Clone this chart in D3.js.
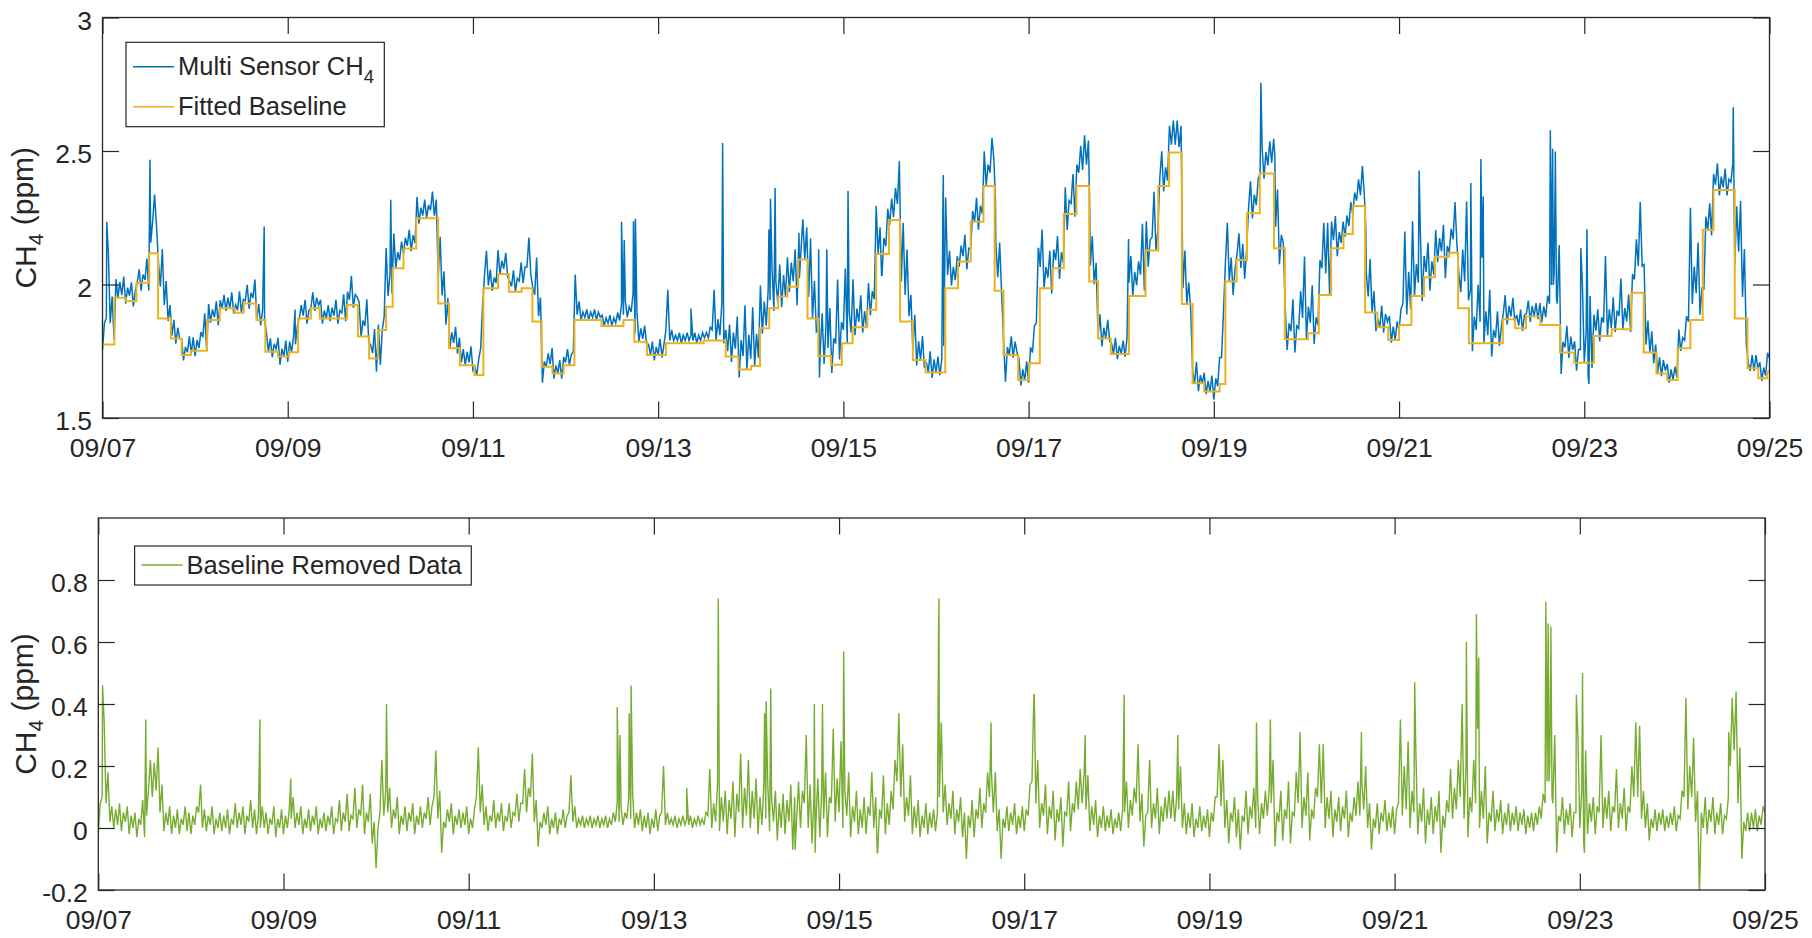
<!DOCTYPE html>
<html>
<head>
<meta charset="utf-8">
<script src="https://cdn.jsdelivr.net/npm/d3@7"></script>
<style>
  body { margin: 0; background: #fff; }
  text { font-family: "Liberation Sans", Arial, Helvetica, sans-serif; fill: #262626; }
</style>
</head>
<body>
<script>
// CH4 sensor record, 09/07 - 09/25
// hours are counted from 09/07 00:00

const xTickLabels = ['09/07', '09/09', '09/11', '09/13', '09/15', '09/17', '09/19', '09/21', '09/23', '09/25'];
const topTicks = [1.5, 2, 2.5, 3];
const bottomTicks = [-0.2, 0, 0.2, 0.4, 0.6, 0.8];

// fitted baseline: step start (hours) and level (ppm)
const baseHours = [0, 3.1, 6.0, 8.8, 12.1, 14.4, 17.7, 20.5, 22.9, 27.1, 30.4, 34.2, 36.6, 39.9, 42.2, 45.5,
  48.3, 50.7, 54.0, 56.3, 63.4, 66.2, 69.1, 71.4, 73.5, 75.2, 78.0, 81.3, 87.0, 89.8, 92.6, 96.4,
  98.7, 102.5, 105.3, 108.6, 111.4, 113.8, 116.6, 119.5, 122.3, 129.3, 135.0, 137.8, 141.1, 146.0,
  155.8, 161.5, 164.8, 168.1, 170.4, 172.8, 175.1, 177.5, 180.3, 182.7, 185.5, 188.8, 191.6, 194.4,
  198.2, 200.5, 203.8, 206.7, 210.0, 213.3, 218.4, 221.7, 225.0, 228.3, 231.2, 233.5, 237.3, 240.1,
  242.9, 246.2, 249.1, 252.4, 255.7, 258.0, 261.3, 266.0, 270.3, 273.6, 276.4, 279.7, 282.5, 285.5,
  289.5, 291.0, 293.9, 296.6, 299.9, 303.6, 306.4, 312.4, 315.2, 318.4, 321.6, 324.0, 327.2, 330.4,
  333.2, 336.0, 339.2, 342.5, 345.3, 349.0, 351.3, 354.1, 362.9, 366.1, 368.9, 372.6, 377.7, 381.4,
  386.5, 391.1, 396.2, 399.4, 402.7, 405.5, 408.2, 411.5, 414.7, 417.5, 423.0, 426.3, 429.1, 431.4];
const baseLevels = [1.775, 1.950, 1.938, 2.007, 2.117, 1.873, 1.798, 1.736, 1.752, 1.867, 1.911, 1.894, 1.929, 1.867, 1.748, 1.730,
  1.746, 1.873, 1.911, 1.873, 1.923, 1.805, 1.723, 1.830, 1.917, 2.061, 2.135, 2.248, 1.929, 1.761, 1.698, 1.661,
  1.986, 2.039, 1.973, 1.986, 1.861, 1.692, 1.667, 1.698, 1.867, 1.845, 1.867, 1.786, 1.736, 1.780,
  1.790, 1.730, 1.682, 1.695, 1.836, 1.911, 1.955, 1.992, 2.094, 1.873, 1.732, 1.699, 1.780, 1.840,
  1.905, 2.114, 2.242, 1.861, 1.717, 1.670, 1.986, 2.086, 2.235, 2.369, 1.977, 1.736, 1.642, 1.705,
  1.986, 2.061, 2.264, 2.369, 2.011, 1.798, 1.740, 1.957, 2.127, 2.369, 2.494, 1.927, 1.630, 1.599,
  1.627, 2.011, 2.092, 2.267, 2.416, 2.136, 1.795, 1.817, 1.961, 2.136, 2.189, 2.294, 1.895, 1.840,
  1.792, 1.848, 1.957, 2.027, 2.104, 2.119, 1.911, 1.780, 1.870, 1.836, 1.880, 1.848, 1.745, 1.707,
  1.807, 1.832, 1.969, 1.745, 1.667, 1.642, 1.761, 1.867, 2.204, 2.354, 1.873, 1.686, 1.649, 1.674];

// baseline removed data: low and high of each hour (h = 0 .. 432), one row per day
const resLow = [
  -0.02, 0.10, 0.08, 0.02, 0.00, 0.01, -0.01, 0.02, -0.02, 0.00, -0.03, 0.01, -0.03, 0.12, 0.10, 0.12, 0.05, -0.01, 0.01, -0.02, 0.00, -0.02, 0.01, -0.01,
  -0.02, 0.01, 0.05, 0.00, -0.01, 0.01, -0.02, 0.00, -0.01, 0.00, -0.02, 0.01, 0.00, 0.01, -0.02, 0.02, 0.00, -0.02, 0.00, 0.00, -0.02, 0.01, -0.03, 0.00,
  -0.02, 0.00, 0.03, 0.00, 0.01, -0.02, 0.00, -0.01, 0.01, -0.02, 0.00, -0.01, 0.01, -0.02, 0.02, -0.01, 0.02, -0.01, 0.03, 0.00, 0.04, -0.02, 0.02, -0.05,
  -0.13, 0.05, 0.04, 0.05, 0.00, 0.03, -0.02, 0.01, -0.01, 0.02, -0.02, 0.01, 0.00, 0.03, 0.01, 0.10, 0.03, -0.08, 0.00, 0.02, -0.02, 0.01, 0.00, 0.01,
  -0.02, 0.00, 0.10, 0.05, 0.01, -0.01, 0.02, 0.00, 0.02, -0.01, 0.02, 0.00, 0.04, 0.02, 0.08, 0.05, 0.10, 0.02, -0.06, 0.00, 0.01, -0.02, 0.00, -0.02,
  0.01, 0.00, 0.05, 0.02, 0.00, 0.01, 0.00, 0.01, 0.00, 0.01, 0.00, 0.01, 0.00, 0.01, 0.02, 0.02, 0.01, 0.03, 0.03, 0.00, 0.01, -0.01, 0.00, -0.02,
  0.00, -0.01, 0.05, 0.01, 0.01, 0.01, 0.00, 0.01, 0.01, 0.01, 0.00, 0.01, 0.01, 0.01, 0.04, 0.00, 0.02, -0.01, 0.02, -0.02, 0.03, -0.03, 0.05, 0.00,
  0.04, 0.00, 0.03, -0.02, 0.01, 0.03, -0.01, 0.02, -0.04, 0.00, -0.02, 0.02, -0.07, 0.03, 0.00, 0.08, 0.00, -0.05, 0.02, -0.03, 0.03, -0.03, 0.08, 0.02,
  0.05, 0.00, 0.04, -0.03, 0.02, -0.02, 0.00, -0.02, 0.04, 0.00, -0.08, 0.03, -0.02, 0.01, 0.06, 0.15, 0.10, 0.02, 0.04, -0.02, 0.00, -0.03, 0.00, -0.02,
  0.00, -0.01, 0.10, 0.05, 0.01, 0.03, -0.02, 0.02, -0.03, -0.10, 0.00, -0.03, 0.03, 0.00, 0.05, 0.10, 0.05, -0.01, -0.10, 0.00, -0.01, 0.01, -0.02, 0.00,
  -0.01, 0.04, 0.15, 0.08, 0.00, 0.04, -0.02, 0.03, -0.04, 0.02, -0.06, 0.04, -0.01, 0.05, 0.06, 0.08, 0.06, -0.01, 0.01, -0.03, 0.00, -0.01, 0.00, -0.02,
  0.00, -0.01, 0.05, 0.00, 0.04, 0.08, 0.02, -0.06, 0.05, 0.00, 0.03, -0.02, 0.02, 0.03, 0.03, 0.02, 0.06, 0.00, -0.02, 0.00, -0.03, 0.00, -0.01, 0.00,
  -0.03, 0.02, 0.10, 0.07, 0.00, -0.05, 0.02, -0.03, -0.07, 0.02, -0.02, 0.03, 0.00, -0.02, 0.03, 0.04, 0.08, -0.06, 0.02, -0.04, 0.03, -0.05, 0.04, 0.08,
  0.00, 0.04, -0.04, 0.03, 0.10, 0.08, 0.00, 0.03, -0.03, 0.02, -0.01, 0.03, -0.03, 0.02, 0.04, 0.04, 0.06, 0.00, -0.07, 0.00, -0.02, 0.02, -0.01, 0.00,
  -0.02, 0.08, 0.04, 0.06, 0.00, 0.05, -0.02, 0.02, -0.05, 0.01, -0.02, 0.02, -0.08, 0.00, 0.05, 0.03, 0.06, 0.10, 0.03, -0.03, 0.05, 0.08, 0.00, 0.03,
  -0.05, 0.02, -0.01, 0.02, -0.02, 0.01, -0.01, 0.01, -0.01, 0.01, -0.02, 0.00, -0.01, 0.01, 0.03, 0.08, 0.15, 0.08, -0.08, 0.02, -0.02, 0.01, -0.03, 0.05,
  0.00, -0.05, -0.02, 0.02, -0.02, 0.05, 0.00, 0.03, -0.01, 0.05, 0.00, 0.03, -0.01, 0.05, 0.10, 0.10, 0.03, 0.00, -0.04, 0.00, -0.01, 0.01, -0.01, 0.00,
  0.01, -0.01, 0.03, 0.10, 0.06, 0.10, 0.02, -0.22, 0.00, -0.02, 0.02, -0.02, 0.01, -0.02, 0.03, 0.20, 0.25, 0.08, -0.10, -0.01, -0.01, 0.00, -0.01, 0.01, 0.05
];
const resHigh = [
  0.08, 0.35, 0.18, 0.07, 0.06, 0.08, 0.05, 0.07, 0.04, 0.05, 0.03, 0.09, 0.04, 0.22, 0.21, 0.26, 0.14, 0.05, 0.07, 0.04, 0.06, 0.03, 0.07, 0.05,
  0.04, 0.07, 0.14, 0.06, 0.04, 0.07, 0.03, 0.05, 0.04, 0.06, 0.03, 0.08, 0.05, 0.07, 0.04, 0.09, 0.06, 0.04, 0.07, 0.05, 0.03, 0.07, 0.03, 0.06,
  0.04, 0.06, 0.10, 0.05, 0.07, 0.03, 0.06, 0.04, 0.07, 0.03, 0.05, 0.04, 0.07, 0.03, 0.09, 0.05, 0.11, 0.04, 0.13, 0.06, 0.14, 0.05, 0.11, 0.02,
  0.00, 0.22, 0.12, 0.13, 0.06, 0.10, 0.04, 0.07, 0.05, 0.08, 0.04, 0.07, 0.05, 0.10, 0.07, 0.25, 0.12, 0.02, 0.06, 0.08, 0.04, 0.06, 0.05, 0.07,
  0.03, 0.06, 0.26, 0.14, 0.07, 0.04, 0.09, 0.05, 0.08, 0.04, 0.08, 0.05, 0.11, 0.08, 0.19, 0.13, 0.24, 0.09, 0.02, 0.05, 0.07, 0.03, 0.05, 0.03,
  0.06, 0.04, 0.17, 0.07, 0.03, 0.04, 0.03, 0.04, 0.03, 0.04, 0.03, 0.04, 0.03, 0.05, 0.08, 0.07, 0.05, 0.10, 0.11, 0.05, 0.06, 0.04, 0.05, 0.03,
  0.06, 0.04, 0.20, 0.05, 0.03, 0.04, 0.03, 0.04, 0.03, 0.04, 0.03, 0.04, 0.03, 0.05, 0.19, 0.08, 0.14, 0.10, 0.12, 0.09, 0.15, 0.11, 0.24, 0.13,
  0.22, 0.12, 0.16, 0.10, 0.14, 0.15, 0.10, 0.12, 0.08, 0.11, 0.09, 0.14, 0.10, 0.15, 0.12, 0.30, 0.14, 0.10, 0.16, 0.12, 0.18, 0.10, 0.32, 0.16,
  0.28, 0.12, 0.18, 0.07, 0.12, 0.06, 0.10, 0.07, 0.18, 0.10, 0.06, 0.17, 0.08, 0.12, 0.22, 0.37, 0.27, 0.10, 0.17, 0.07, 0.09, 0.04, 0.08, 0.05,
  0.06, 0.05, 0.34, 0.14, 0.08, 0.12, 0.06, 0.10, 0.05, 0.04, 0.09, 0.06, 0.13, 0.08, 0.18, 0.18, 0.18, 0.06, 0.03, 0.07, 0.05, 0.08, 0.04, 0.07,
  0.06, 0.14, 0.43, 0.22, 0.08, 0.14, 0.07, 0.12, 0.06, 0.10, 0.05, 0.15, 0.08, 0.15, 0.19, 0.17, 0.17, 0.07, 0.09, 0.04, 0.07, 0.04, 0.06, 0.03,
  0.05, 0.06, 0.15, 0.09, 0.13, 0.27, 0.11, 0.04, 0.22, 0.08, 0.13, 0.07, 0.10, 0.12, 0.12, 0.10, 0.20, 0.08, 0.05, 0.08, 0.03, 0.07, 0.04, 0.06,
  0.05, 0.10, 0.27, 0.22, 0.09, 0.05, 0.10, 0.06, 0.04, 0.12, 0.07, 0.13, 0.10, 0.08, 0.12, 0.13, 0.22, 0.05, 0.12, 0.06, 0.15, 0.05, 0.18, 0.31,
  0.10, 0.18, 0.06, 0.13, 0.27, 0.27, 0.10, 0.12, 0.06, 0.10, 0.07, 0.12, 0.05, 0.10, 0.15, 0.15, 0.20, 0.08, 0.03, 0.08, 0.05, 0.09, 0.05, 0.07,
  0.06, 0.35, 0.20, 0.28, 0.12, 0.25, 0.08, 0.13, 0.06, 0.10, 0.07, 0.12, 0.04, 0.09, 0.19, 0.13, 0.22, 0.40, 0.20, 0.10, 0.22, 0.32, 0.12, 0.20,
  0.05, 0.12, 0.06, 0.09, 0.05, 0.08, 0.05, 0.07, 0.05, 0.06, 0.04, 0.05, 0.05, 0.07, 0.11, 0.22, 0.60, 0.30, 0.04, 0.10, 0.06, 0.08, 0.05, 0.30,
  0.12, 0.25, 0.08, 0.10, 0.07, 0.30, 0.10, 0.12, 0.07, 0.19, 0.08, 0.13, 0.07, 0.20, 0.34, 0.33, 0.12, 0.08, 0.03, 0.06, 0.05, 0.06, 0.04, 0.05,
  0.07, 0.04, 0.12, 0.42, 0.20, 0.29, 0.12, 0.05, 0.10, 0.06, 0.10, 0.05, 0.08, 0.04, 0.10, 0.42, 0.44, 0.26, 0.02, 0.05, 0.05, 0.06, 0.04, 0.07, 0.10
];

// short spikes between the samples
const spikeHours = [1.1, 12.3, 41.9, 49.9, 74.7, 134.5, 135.2, 137.6, 138.1, 152.5, 160.7, 172.7, 173.1, 174.3,
  180.6, 185.6, 185.8, 187.7, 193.2, 201.9, 217.8, 217.9, 231.4, 242.6, 255.8, 265.9, 279.8, 300.2, 303.8,
  327.4, 341.2, 354.6, 357.2, 357.8, 375.2, 375.5, 375.8, 376.2, 376.5, 376.8, 383.1, 384.7, 385.2, 422.6];
const spikeValues = [0.46, 0.35, 0.35, 0.16, 0.40, 0.39, 0.30, 0.37, 0.46, 0.13, 0.74, 0.37, 0.41, 0.45,
  -0.07, 0.40, -0.08, 0.40, 0.57, -0.08, 0.65, 0.74, 0.34, 0.43, 0.30, 0.43, 0.30, 0.34, 0.35,
  0.31, 0.47, 0.60, 0.69, 0.55, 0.73, 0.15, 0.66, 0.20, 0.65, 0.10, 0.43, 0.50, -0.08, 0.31];

const t0 = Date.UTC(2021, 8, 7);
const toDate = h => new Date(t0 + h * 3600e3);
const xTickDates = xTickLabels.map((d, i) => toDate(i * 48));

const width = 1812, height = 938;
const blue = '#0072BD', orange = '#EDB120', green = '#77AC30';
const tickLen = 16.5;

const svg = d3.select('body').append('svg')
  .attr('width', width)
  .attr('height', height)
  .style('background', '#fff');

// samples: low at the hour, high at the half hour, plus spikes; sensor = baseline + residual
const levelAt = h => baseLevels[Math.max(0, d3.bisectRight(baseHours, h) - 1)];
let samples = [];
resLow.forEach((lo, i) => {
  samples.push({ h: i, r: lo });
  if (i < 432) samples.push({ h: i + 0.5, r: resHigh[i] });
});
spikeHours.forEach((h, i) => samples.push({ h, r: spikeValues[i] }));
samples.sort((a, b) => a.h - b.h);
samples.forEach(d => {
  d.date = toDate(d.h);
  d.sensor = levelAt(d.h) + d.r;
});
const basePts = baseHours.map((h, i) => ({ date: toDate(h), v: baseLevels[i] }));
basePts.push({ date: toDate(432), v: baseLevels[baseLevels.length - 1] });

function panel(box, yDomain, yTicks, id) {
  const x = d3.scaleUtc().domain([toDate(0), toDate(432)]).range([box.left, box.right]);
  const y = d3.scaleLinear().domain(yDomain).range([box.bottom, box.top]);
  const g = svg.append('g');

  g.append('clipPath').attr('id', id)
    .append('rect')
    .attr('x', box.left).attr('y', box.top)
    .attr('width', box.right - box.left).attr('height', box.bottom - box.top);

  const plot = g.append('g').attr('clip-path', `url(#${id})`);

  const axes = [
    d3.axisBottom(x).tickValues(xTickDates).tickFormat((d, i) => xTickLabels[i])
      .tickSize(-tickLen).tickPadding(20),
    d3.axisTop(x).tickValues(xTickDates).tickFormat('').tickSize(-tickLen),
    d3.axisLeft(y).tickValues(yTicks).tickSize(-tickLen).tickPadding(10.5),
    d3.axisRight(y).tickValues(yTicks).tickFormat('').tickSize(-tickLen)
  ];
  const pos = [
    `translate(0,${box.bottom})`, `translate(0,${box.top})`,
    `translate(${box.left},0)`, `translate(${box.right},0)`
  ];
  axes.forEach((a, i) => {
    const ag = g.append('g').attr('transform', pos[i]).call(a);
    ag.select('.domain').remove();
    ag.selectAll('line').attr('stroke', '#262626').attr('stroke-width', 1.2);
    ag.selectAll('text').attr('font-size', 26.5).attr('fill', '#262626')
      .attr('font-family', '"Liberation Sans", Arial, sans-serif');
    if (i === 2) ag.selectAll('text').attr('dy', '0.45em').text(d => d3.format('~g')(d).replace('−', '-'));
  });

  g.append('rect')
    .attr('x', box.left).attr('y', box.top)
    .attr('width', box.right - box.left).attr('height', box.bottom - box.top)
    .attr('fill', 'none').attr('stroke', '#262626').attr('stroke-width', 1.3);

  // y label CH4 (ppm)
  const yl = g.append('text')
    .attr('transform', `translate(${box.labelX},${(box.top + box.bottom) / 2}) rotate(-90)`)
    .attr('text-anchor', 'middle')
    .attr('font-size', 30);
  yl.append('tspan').text('CH');
  yl.append('tspan').text('4').attr('font-size', 21).attr('dy', '0.35em');
  yl.append('tspan').text(' (ppm)').attr('dy', '-0.35em');

  return { x, y, g, plot };
}

// ---- top: sensor + fitted baseline
const topPanel = panel({ left: 102.5, right: 1769.5, top: 17.5, bottom: 418, labelX: 36 }, [1.5, 3], topTicks, 'clipTop');

topPanel.plot.append('path')
  .datum(samples)
  .attr('fill', 'none')
  .attr('stroke', blue)
  .attr('stroke-width', 1.5)
  .attr('d', d3.line().x(d => topPanel.x(d.date)).y(d => topPanel.y(d.sensor)));

topPanel.plot.append('path')
  .datum(basePts)
  .attr('fill', 'none')
  .attr('stroke', orange)
  .attr('stroke-width', 2)
  .attr('d', d3.line().curve(d3.curveStepAfter).x(d => topPanel.x(d.date)).y(d => topPanel.y(d.v)));

// ---- bottom: baseline removed
const botPanel = panel({ left: 98.3, right: 1765, top: 518, bottom: 890, labelX: 36 }, [-0.2, 1.0], bottomTicks, 'clipBot');

botPanel.plot.append('path')
  .datum(samples)
  .attr('fill', 'none')
  .attr('stroke', green)
  .attr('stroke-width', 1.4)
  .attr('d', d3.line().x(d => botPanel.x(d.date)).y(d => botPanel.y(d.r)));

// ---- legends
function legend(box, items) {
  const lg = svg.append('g');
  lg.append('rect')
    .attr('x', box.x).attr('y', box.y).attr('width', box.w).attr('height', box.h)
    .attr('fill', '#fff').attr('stroke', '#262626').attr('stroke-width', 1.2);
  items.forEach((it, i) => {
    const cy = box.y + box.first + i * box.step;
    lg.append('line')
      .attr('x1', box.x + 7).attr('x2', box.x + 48)
      .attr('y1', cy).attr('y2', cy)
      .attr('stroke', it.color).attr('stroke-width', 1.5);
    const t = lg.append('text')
      .attr('x', box.x + 52).attr('y', cy + 8.5)
      .attr('font-size', 25.5);
    t.append('tspan').text(it.label);
    if (it.sub) t.append('tspan').text(it.sub).attr('font-size', 18.5).attr('dy', '0.42em');
  });
}

legend({ x: 126, y: 42.3, w: 258.3, h: 84.4, first: 24.4, step: 40 }, [
  { label: 'Multi Sensor CH', sub: '4', color: blue },
  { label: 'Fitted Baseline', color: orange }
]);
legend({ x: 134.6, y: 546, w: 336.7, h: 39, first: 19, step: 0 }, [
  { label: 'Baseline Removed Data', color: green }
]);
</script>
</body>
</html>
